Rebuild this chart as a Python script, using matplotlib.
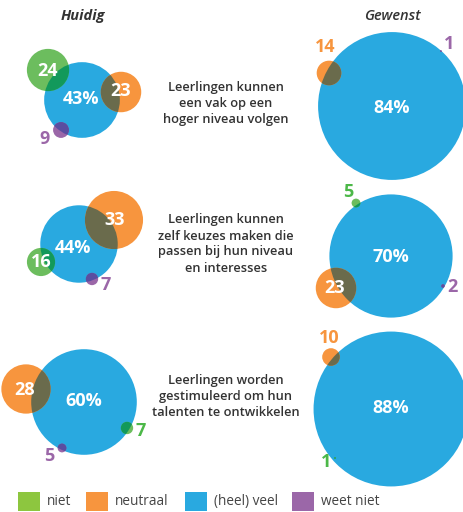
import matplotlib.pyplot as plt
from matplotlib.patches import Circle, Rectangle

plt.rcParams['font.family'] = ['Open Sans', 'DejaVu Sans']

# data: percentages per statement (niet, neutraal, (heel) veel, weet niet)
statements = [
    "Leerlingen kunnen\neen vak op een\nhoger niveau volgen",
    "Leerlingen kunnen\nzelf keuzes maken die\npassen bij hun niveau\nen interesses",
    "Leerlingen worden\ngestimuleerd om hun\ntalenten te ontwikkelen",
]
categories = ['niet', 'neutraal', '(heel) veel', 'weet niet']
huidig_niet = [24, 16, 7]
huidig_neutraal = [23, 33, 28]
huidig_veel = [43, 44, 60]
huidig_weetniet = [9, 7, 5]
gewenst_niet = [0, 5, 1]
gewenst_neutraal = [14, 23, 10]
gewenst_veel = [84, 70, 88]
gewenst_weetniet = [1, 2, 0]

# colours
c_green = '#6cbd5e'
c_green_leg = '#8dc63f'
c_orange = '#f7953e'
c_blue = '#29a9e0'
c_purple = '#9b67a8'
ov = {'green': '#12995b', 'orange': '#6a6b4c', 'purple': '#5a4ea0'}
col = {'green': c_green, 'orange': c_orange, 'purple': c_purple}
lab_col = {'green': '#4cb848', 'orange': '#f7953e', 'purple': '#9b67a8'}

scale = 0.88  # radius in px per percent point

# layout (pixel positions): blue centre, small circle centres, label positions
layout = [
    # huidig
    dict(blue=(82, 100), blue_lab=(81, 99),
         green=(48, 70), green_lab=(48, 71, 'in'),
         orange=(121, 92), orange_lab=(121, 91, 'in'),
         purple=(61, 130), purple_lab=(45, 139, 'out')),
    dict(blue=(79, 244), blue_lab=(73, 248),
         green=(41, 262), green_lab=(41, 262, 'in'),
         orange=(114, 220), orange_lab=(115, 220, 'in'),
         purple=(92, 279), purple_lab=(106, 285, 'out')),
    dict(blue=(84, 402), blue_lab=(84, 401),
         green=(127, 428), green_lab=(141, 431, 'out'),
         orange=(26, 389), orange_lab=(25, 390, 'in'),
         purple=(62, 448), purple_lab=(49, 456, 'out')),
    # gewenst
    dict(blue=(392, 106), blue_lab=(392, 108),
         green=None, green_lab=None,
         orange=(329, 73), orange_lab=(325, 47, 'out'),
         purple=(441, 51), purple_lab=(449, 44, 'out')),
    dict(blue=(391, 256), blue_lab=(391, 257),
         green=(356, 203), green_lab=(348, 192, 'out'),
         orange=(336, 288), orange_lab=(335, 288, 'in'),
         purple=(443, 286), purple_lab=(452, 287, 'out')),
    dict(blue=(391, 409), blue_lab=(391, 408),
         green=(335, 458), green_lab=(326, 462, 'out'),
         orange=(331, 357), orange_lab=(329, 338, 'out'),
         purple=None, purple_lab=None),
]

fig = plt.figure(figsize=(4.64, 5.12), dpi=100)
ax = fig.add_axes([0, 0, 1, 1])
ax.set_xlim(0, 464)
ax.set_ylim(512, 0)
ax.set_aspect('equal')
ax.axis('off')

groups = []
for i in range(3):
    groups.append(dict(green=huidig_niet[i], orange=huidig_neutraal[i],
                       blue=huidig_veel[i], purple=huidig_weetniet[i]))
for i in range(3):
    groups.append(dict(green=gewenst_niet[i], orange=gewenst_neutraal[i],
                       blue=gewenst_veel[i], purple=gewenst_weetniet[i]))

for vals, lay in zip(groups, layout):
    big = Circle(lay['blue'], vals['blue'] * scale, color=c_blue, lw=0, zorder=1)
    ax.add_patch(big)
    ax.text(*lay['blue_lab'], f"{vals['blue']}%", color='white', fontsize=13,
            fontweight='bold', ha='center', va='center', zorder=5)
    for k in ['green', 'orange', 'purple']:
        if lay[k] is None or vals[k] == 0:
            continue
        r = vals[k] * scale
        ax.add_patch(Circle(lay[k], r, color=col[k], lw=0, zorder=2))
        inner = Circle(lay[k], r, color=ov[k], lw=0, zorder=3)
        ax.add_patch(inner)
        inner.set_clip_path(big)
        lx, ly, where = lay[k + '_lab']
        ax.text(lx, ly, str(vals[k]), color='white' if where == 'in' else lab_col[k],
                fontsize=13, fontweight='bold', ha='center', va='center', zorder=5)

# titles
ax.text(83, 16, 'Huidig', fontsize=10.5, fontweight='bold', fontstyle='italic',
        color='#333333', ha='center', va='center')
ax.text(392, 16, 'Gewenst', fontsize=10.5, fontweight='semibold', fontstyle='italic',
        color='#333333', ha='center', va='center')

# statements
stmt_y = [103, 244, 397]
for s, y in zip(statements, stmt_y):
    ax.text(226, y, s, fontsize=9.3, fontweight='semibold', color='#333333',
            ha='center', va='center', linespacing=1.3)

# legend
leg_cols = [c_green_leg, c_orange, c_blue, c_purple]
leg_x = [18, 86, 185, 292]
for c, x, name in zip(leg_cols, leg_x, categories):
    ax.add_patch(Rectangle((x, 492), 22, 19, color=c, lw=0))
    ax.text(x + 29, 502, name, fontsize=9.8, color='#444444', ha='left', va='center')

fig.savefig('out.png', dpi=100)
